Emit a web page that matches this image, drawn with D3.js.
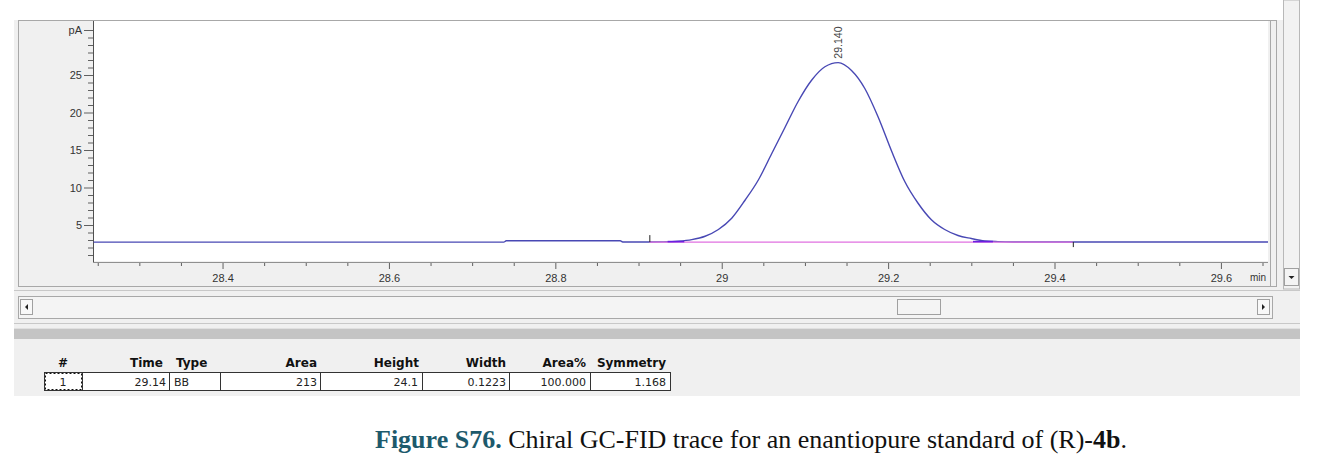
<!DOCTYPE html>
<html>
<head>
<meta charset="utf-8">
<script src="https://cdn.jsdelivr.net/npm/d3@7/dist/d3.min.js"></script>
<style>
  html, body { margin: 0; padding: 0; background: #ffffff; }
  svg { display: block; }
</style>
</head>
<body>
<svg id="chart" width="1320" height="475"></svg>
<script>
// ---------------- data ----------------
const times   = [28.245, 28.738, 28.741, 28.878, 28.881, 28.913, 28.930, 28.948, 28.964, 28.980,
                 28.996, 29.012, 29.028, 29.044, 29.060, 29.076, 29.092, 29.108, 29.124, 29.140,
                 29.156, 29.172, 29.188, 29.204, 29.220, 29.236, 29.252, 29.268, 29.284, 29.300,
                 29.316, 29.332, 29.350, 29.420, 29.657];
const signal  = [2.72, 2.72, 2.90, 2.90, 2.73, 2.73, 2.75, 2.84, 3.05, 3.50,
                 4.40, 5.90, 8.30, 11.00, 14.50, 18.00, 21.50, 24.30, 26.10, 26.65,
                 25.60, 23.20, 19.40, 14.90, 10.80, 7.90, 5.70, 4.40, 3.60, 3.20,
                 2.88, 2.78, 2.74, 2.73, 2.73];
const baselineStart = 28.913, baselineEnd = 29.422, baselineLevel = 2.72;
const peakTime = 29.140, peakHeight = 26.65, peakLabel = "29.140";

const xMajorTicks  = [28.4, 28.6, 28.8, 29.0, 29.2, 29.4, 29.6];
const xTickLabels  = ["28.4", "28.6", "28.8", "29", "29.2", "29.4", "29.6"];
const yMajorTicks  = [5, 10, 15, 20, 25];
const yTickLabels  = ["5", "10", "15", "20", "25"];
const yUnitTick = 31, yUnitLabel = "pA", xUnitLabel = "min";

const tableHeaders = ["#", "Time", "Type", "Area", "Height", "Width", "Area%", "Symmetry"];
const tableRow     = ["1", "29.14", "BB", "213", "24.1", "0.1223", "100.000", "1.168"];

const captionBold = "Figure S76.";
const captionText = " Chiral GC-FID trace for an enantiopure standard of (R)-";
const captionCompound = "4b";

// ---------------- layout ----------------
const svg = d3.select("#chart");
const plot = {left: 93, right: 1268, top: 21, bottom: 261};
const x = d3.scaleLinear().domain([28.2443, 29.6566]).range([plot.left, plot.right]);
const y = d3.scaleLinear().domain([0, 32]).range([262.5, 22.5]);
const uiFont = "'Liberation Sans', Arial, sans-serif";

// window chrome
svg.append("rect").attr("x", 14).attr("y", 20).attr("width", 1286).attr("height", 376).attr("fill", "#f0f0f0");
svg.append("rect").attr("x", 18.5).attr("y", 20.5).attr("width", 1258).attr("height", 266)
  .attr("fill", "#f0f0f0").attr("stroke", "#a8a8a8");
svg.append("line").attr("x1", 1270.5).attr("x2", 1270.5).attr("y1", 20).attr("y2", 287).attr("stroke", "#a8a8a8");
svg.append("rect").attr("x", plot.left).attr("y", plot.top).attr("width", plot.right - plot.left)
  .attr("height", plot.bottom - plot.top).attr("fill", "#ffffff");

// vertical scrollbar
svg.append("rect").attr("x", 1283.5).attr("y", 0).attr("width", 16).attr("height", 289)
  .attr("fill", "#f2f2f2").attr("stroke", "#b8b8b8");
svg.append("rect").attr("x", 1284.5).attr("y", 268.5).attr("width", 14).attr("height", 17)
  .attr("fill", "#f4f4f4").attr("stroke", "#a0a0a0");
svg.append("path").attr("d", "M1288.5,276 L1294.5,276 L1291.5,279 Z").attr("fill", "#222");

// horizontal scrollbar
svg.append("line").attr("x1", 14).attr("x2", 1300).attr("y1", 290.5).attr("y2", 290.5).attr("stroke", "#c8c8c8");
svg.append("rect").attr("x", 18.5).attr("y", 296.5).attr("width", 1254).attr("height", 22)
  .attr("fill", "#f4f4f4").attr("stroke", "#a8a8a8");
svg.append("rect").attr("x", 20.5).attr("y", 299.5).attr("width", 12).attr("height", 15)
  .attr("fill", "#f8f8f8").attr("stroke", "#a0a0a0");
svg.append("path").attr("d", "M28,304 L28,310 L25,307 Z").attr("fill", "#222");
svg.append("rect").attr("x", 1257.5).attr("y", 299.5).attr("width", 12).attr("height", 15)
  .attr("fill", "#f8f8f8").attr("stroke", "#a0a0a0");
svg.append("path").attr("d", "M1262,304 L1262,310 L1265,307 Z").attr("fill", "#222");
svg.append("rect").attr("x", 897.5).attr("y", 299.5).attr("width", 43).attr("height", 15)
  .attr("fill", "#f4f4f4").attr("stroke", "#a0a0a0");
svg.append("line").attr("x1", 14).attr("x2", 1300).attr("y1", 323.5).attr("y2", 323.5).attr("stroke", "#c8c8c8");
svg.append("rect").attr("x", 14).attr("y", 328).attr("width", 1286).attr("height", 11).attr("fill", "#c4c4c4");
svg.append("line").attr("x1", 14).attr("x2", 1300).attr("y1", 328.5).attr("y2", 328.5).attr("stroke", "#e0e0e0");

// ---------------- axes ----------------
const yMinor = d3.range(1, 32).filter(v => yMajorTicks.indexOf(v) < 0 && v !== yUnitTick);
const yAxisMajor = d3.axisLeft(y).tickValues(yMajorTicks.concat([yUnitTick])).tickSize(9).tickPadding(2)
  .tickFormat(d => d === yUnitTick ? yUnitLabel : yTickLabels[yMajorTicks.indexOf(d)]);
const gy = svg.append("g").attr("transform", `translate(${plot.left},0)`).call(yAxisMajor);
gy.select(".domain").remove();
svg.append("g").attr("transform", `translate(${plot.left},0)`)
  .call(d3.axisLeft(y).tickValues(yMinor).tickSize(5).tickFormat(""))
  .select(".domain").remove();
svg.append("line").attr("x1", plot.left + 0.5).attr("x2", plot.left + 0.5)
  .attr("y1", plot.top).attr("y2", plot.bottom + 1).attr("stroke", "#505050");

const xMinor = d3.range(28.25, 29.66, 0.05).map(v => +v.toFixed(2))
  .filter(v => !xMajorTicks.some(m => Math.abs(m - v) < 1e-6));
const gx = svg.append("g").attr("transform", `translate(0,${plot.bottom + 1})`)
  .call(d3.axisBottom(x).tickValues(xMajorTicks).tickSize(7).tickPadding(5)
    .tickFormat(d => xTickLabels[xMajorTicks.indexOf(d)]));
gx.select(".domain").remove();
svg.append("g").attr("transform", `translate(0,${plot.bottom + 1})`)
  .call(d3.axisBottom(x).tickValues(xMinor).tickSize(4).tickFormat(""))
  .select(".domain").remove();
svg.append("line").attr("x1", plot.left).attr("x2", plot.right)
  .attr("y1", plot.bottom + 1.5).attr("y2", plot.bottom + 1.5).attr("stroke", "#909090");

svg.selectAll(".tick line").attr("stroke", "#606060");
svg.selectAll(".tick text").attr("font-family", uiFont).attr("font-size", 11).attr("fill", "#333");

svg.append("text").attr("x", plot.right - 2).attr("y", 281).attr("text-anchor", "end")
  .attr("font-family", uiFont).attr("font-size", 10).attr("fill", "#333").text(xUnitLabel);

// ---------------- trace ----------------
const pts = times.map((t, i) => [t, signal[i]]);
const line = d3.line().x(d => x(d[0])).y(d => y(d[1])).curve(d3.curveMonotoneX);
svg.append("clipPath").attr("id", "plotclip").append("rect")
  .attr("x", plot.left).attr("y", plot.top).attr("width", plot.right - plot.left).attr("height", plot.bottom - plot.top);
const gp = svg.append("g").attr("clip-path", "url(#plotclip)");

gp.append("path").datum(pts).attr("d", line).attr("fill", "none")
  .attr("stroke", "#4848b4").attr("stroke-width", 1.4);

gp.append("line").attr("x1", x(baselineStart)).attr("x2", x(baselineEnd))
  .attr("y1", y(baselineLevel)).attr("y2", y(baselineLevel))
  .attr("stroke", "#e070e0").attr("stroke-width", 1.4);

[[28.935, 28.955], [29.302, 29.326]].forEach(([a, b]) => {
  gp.append("line").attr("x1", x(a)).attr("x2", x(b))
    .attr("y1", y(baselineLevel) - 0.5).attr("y2", y(baselineLevel) - 0.5)
    .attr("stroke", "#6a20e0").attr("stroke-width", 1.6);
});

gp.append("line").attr("x1", x(baselineStart) + 0.5).attr("x2", x(baselineStart) + 0.5)
  .attr("y1", y(baselineLevel) - 7).attr("y2", y(baselineLevel)).attr("stroke", "#222").attr("stroke-width", 1);
gp.append("line").attr("x1", x(baselineEnd) + 0.5).attr("x2", x(baselineEnd) + 0.5)
  .attr("y1", y(baselineLevel)).attr("y2", y(baselineLevel) + 5).attr("stroke", "#222").attr("stroke-width", 1);

svg.append("text")
  .attr("transform", `translate(${x(peakTime) + 3.5},${y(peakHeight) - 4}) rotate(-90)`)
  .attr("font-family", uiFont).attr("font-size", 10.5).attr("fill", "#444").text(peakLabel);

// ---------------- table ----------------
const headerRight = [66, 163, null, 317, 419, 506, 586, 666];
const headerLeft  = [null, null, 176, null, null, null, null, null];
tableHeaders.forEach((h, i) => {
  const t = svg.append("text").attr("y", 367).attr("font-family", "'DejaVu Sans', sans-serif")
    .attr("font-weight", "bold").attr("font-size", 12).attr("fill", "#111").text(h);
  if (headerLeft[i] !== null) t.attr("x", headerLeft[i]);
  else if (i === 0) t.attr("x", 63).attr("text-anchor", "middle");
  else t.attr("x", headerRight[i]).attr("text-anchor", "end");
});

const cellEdges = [44, 82, 169, 220, 320, 422, 509, 590, 670];
svg.append("rect").attr("x", cellEdges[0] + 0.5).attr("y", 372.5)
  .attr("width", cellEdges[8] - cellEdges[0]).attr("height", 18).attr("fill", "#ffffff").attr("stroke", "#333");
cellEdges.slice(1, 8).forEach(e => {
  svg.append("line").attr("x1", e + 0.5).attr("x2", e + 0.5).attr("y1", 372.5).attr("y2", 390.5).attr("stroke", "#333");
});
svg.append("rect").attr("x", cellEdges[0] + 1.5).attr("y", 373.5)
  .attr("width", cellEdges[1] - cellEdges[0] - 2).attr("height", 16).attr("fill", "none")
  .attr("stroke", "#111").attr("stroke-dasharray", "2,2");
const rowRight = [null, 166, null, 317, 418, 506, 586, 666];
tableRow.forEach((v, i) => {
  const t = svg.append("text").attr("y", 386).attr("font-family", "'DejaVu Sans', sans-serif")
    .attr("font-size", 11).attr("fill", "#222").text(v);
  if (i === 0) t.attr("x", 63).attr("text-anchor", "middle");
  else if (i === 2) t.attr("x", 174);
  else t.attr("x", rowRight[i]).attr("text-anchor", "end");
});

// ---------------- caption ----------------
const cap = svg.append("text").attr("x", 375).attr("y", 448)
  .attr("font-family", "'Liberation Serif', 'Times New Roman', serif").attr("font-size", 26)
  .attr("fill", "#111").attr("textLength", 752).attr("lengthAdjust", "spacingAndGlyphs");
cap.append("tspan").attr("font-weight", "bold").attr("fill", "#1d5a6c").text(captionBold);
cap.append("tspan").text(captionText);
cap.append("tspan").attr("font-weight", "bold").text(captionCompound);
cap.append("tspan").text(".");
</script>
</body>
</html>
